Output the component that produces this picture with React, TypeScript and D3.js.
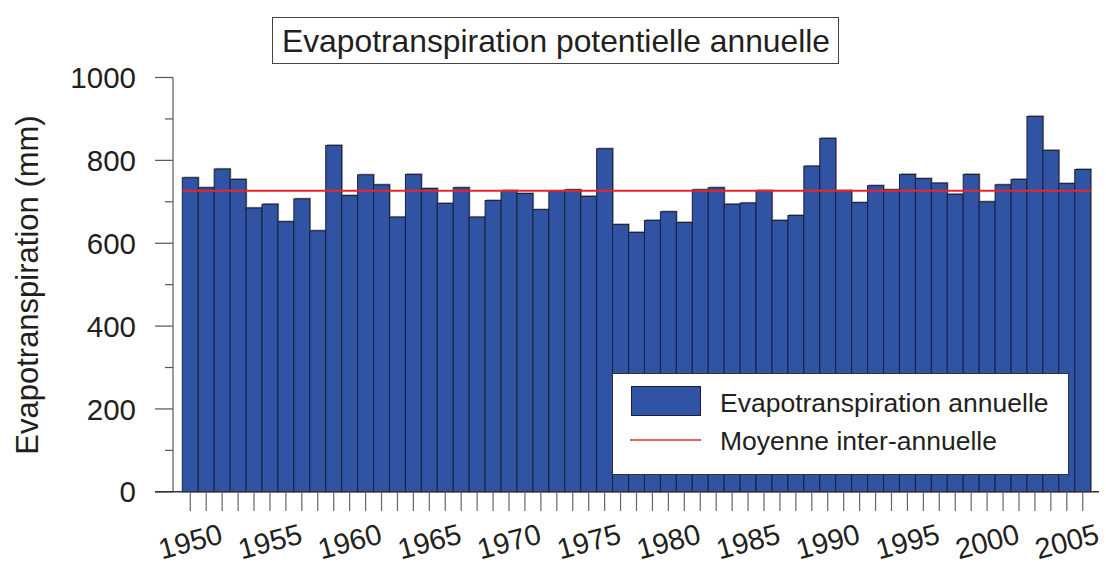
import React from "react";
import * as d3 from "d3";

const years: number[] = [
  1950, 1951, 1952, 1953, 1954, 1955, 1956, 1957, 1958, 1959,
  1960, 1961, 1962, 1963, 1964, 1965, 1966, 1967, 1968, 1969,
  1970, 1971, 1972, 1973, 1974, 1975, 1976, 1977, 1978, 1979,
  1980, 1981, 1982, 1983, 1984, 1985, 1986, 1987, 1988, 1989,
  1990, 1991, 1992, 1993, 1994, 1995, 1996, 1997, 1998, 1999,
  2000, 2001, 2002, 2003, 2004, 2005, 2006,
];

const etp: number[] = [
  758, 734, 779, 754, 685, 694, 652, 707, 630, 836,
  715, 765, 741, 663, 766, 732, 696, 734, 663, 703,
  727, 720, 681, 726, 729, 713, 828, 645, 626, 655,
  676, 650, 729, 734, 694, 697, 727, 655, 667, 786,
  853, 727, 698, 739, 729, 766, 756, 745, 718, 766,
  700, 741, 754, 906, 824, 744, 778,
];

const yTicksMajor: number[] = [0, 200, 400, 600, 800, 1000];
const yTicksMinor: number[] = [100, 300, 500, 700, 900];
const xLabelYears: number[] = [1950, 1955, 1960, 1965, 1970, 1975, 1980, 1985, 1990, 1995, 2000, 2005];

const title = "Evapotranspiration potentielle annuelle";
const yTitle = "Evapotranspiration (mm)";
const legendBar = "Evapotranspiration annuelle";
const legendLine = "Moyenne inter-annuelle";

const FONT = "'Liberation Sans', Arial, Helvetica, sans-serif";
const TEXT = "#231f20";
const BAR = "#3053a3";

export default function App() {
  const W = 1106;
  const H = 565;
  const x = d3.scaleBand<number>().domain(years).range([182.3, 1090.7]).paddingInner(0).paddingOuter(0);
  const y = d3.scaleLinear().domain([0, 1000]).range([491.8, 77.5]);
  const mean = d3.mean(etp) as number;
  const axisX = 173;
  const baseY = y(0);

  return (
    <svg
      width={W}
      height={H}
      style={{ position: "absolute", left: 0, top: 0, display: "block", background: "#fff" }}
      fontFamily={FONT}
    >
      <rect x={0} y={0} width={W} height={H} fill="#fff" />
      {/* title */}
      <rect x={272.5} y={17.5} width={566} height={46} fill="#fff" stroke="#444" strokeWidth={1} />
      <text x={556} y={52} textAnchor="middle" fontSize={31.8} fill={TEXT}>
        {title}
      </text>

      {/* bar shadows */}
      {years.map((yr, i) => (
        <rect
          key={"s" + yr}
          x={(x(yr) as number) + 1.2}
          y={y(etp[i]) - 1.2}
          width={x.bandwidth()}
          height={baseY - y(etp[i])}
          fill="#9a9a9a"
        />
      ))}
      {/* bars */}
      {years.map((yr, i) => (
        <rect
          key={"b" + yr}
          x={x(yr) as number}
          y={y(etp[i])}
          width={x.bandwidth()}
          height={baseY - y(etp[i])}
          fill={BAR}
          stroke="#1c1f3a"
          strokeWidth={1}
        />
      ))}

      {/* mean line */}
      <line
        x1={x(years[0]) as number}
        x2={(x(years[years.length - 1]) as number) + x.bandwidth()}
        y1={y(mean)}
        y2={y(mean)}
        stroke="#e8242b"
        strokeWidth={2}
      />

      {/* y axis */}
      <line x1={axisX} x2={axisX} y1={y(1000)} y2={baseY} stroke="#7a7a7a" strokeWidth={1.5} />
      {yTicksMajor.map((t) => (
        <g key={"ym" + t}>
          <line x1={155} x2={axisX} y1={y(t)} y2={y(t)} stroke="#555" strokeWidth={1.2} />
          <text x={136} y={y(t)} dy="0.36em" textAnchor="end" fontSize={29.5} fill={TEXT}>
            {t}
          </text>
        </g>
      ))}
      {yTicksMinor.map((t) => (
        <line key={"yn" + t} x1={165} x2={axisX} y1={y(t)} y2={y(t)} stroke="#555" strokeWidth={1.2} />
      ))}
      <text
        transform={`translate(38,${285}) rotate(-90)`}
        textAnchor="middle"
        fontSize={31}
        fill={TEXT}
      >
        {yTitle}
      </text>

      {/* x axis */}
      <line x1={155} x2={1099} y1={baseY} y2={baseY} stroke="#333" strokeWidth={1.5} />
      {years.map((yr) => {
        const cx = (x(yr) as number) + x.bandwidth() / 2;
        return <line key={"xt" + yr} x1={cx} x2={cx} y1={baseY} y2={511} stroke="#666" strokeWidth={1.2} />;
      })}
      {xLabelYears.map((yr) => {
        const cx = (x(yr) as number) + x.bandwidth() / 2;
        return (
          <text
            key={"xl" + yr}
            transform={`translate(${cx},${541}) rotate(-15)`}
            dy="0.36em"
            textAnchor="middle"
            fontSize={29}
            fill={TEXT}
          >
            {yr}
          </text>
        );
      })}

      {/* legend */}
      <rect x={612.5} y={373.5} width={456} height={101} fill="#fff" stroke="#333" strokeWidth={1} />
      <rect x={631.5} y={386.5} width={69} height={29} fill={BAR} stroke="#1c1f3a" strokeWidth={1} />
      <text x={720} y={412} fontSize={26.5} fill={TEXT}>
        {legendBar}
      </text>
      <line x1={630} x2={701} y1={440} y2={440} stroke="#e8242b" strokeWidth={1.5} />
      <text x={720} y={450} fontSize={26.5} fill={TEXT}>
        {legendLine}
      </text>
    </svg>
  );
}
